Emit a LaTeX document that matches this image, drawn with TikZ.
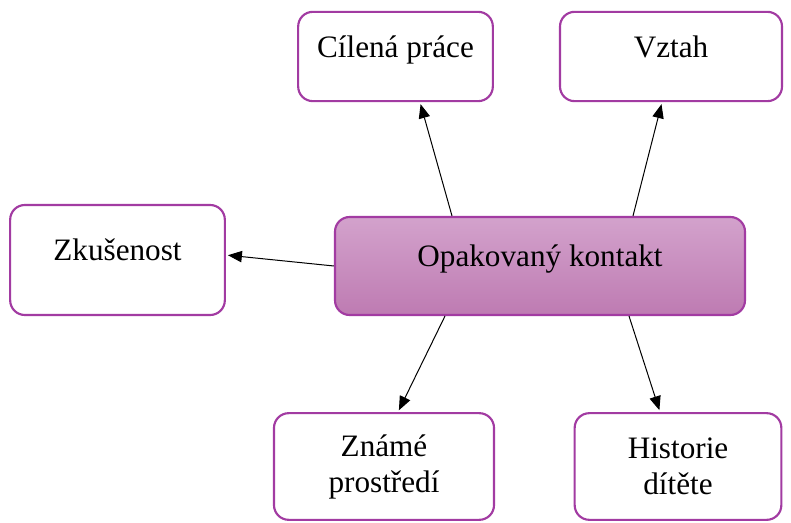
\documentclass[tikz,border=0pt]{standalone}
\usepackage{fontspec}
\setmainfont{Liberation Serif}
\usetikzlibrary{arrows.meta}

\definecolor{boxline}{HTML}{A23BA2}
\definecolor{maintop}{HTML}{D3A2CC}
\definecolor{mainbottom}{HTML}{BE7BB2}

\begin{document}
\begin{tikzpicture}
  [x=0.75pt,y=-0.75pt,>={Triangle[length=10.5pt,width=8.5pt]},
   topic/.style={rectangle,rounded corners=11pt,draw=boxline,line width=1.6pt,fill=white,
     font=\fontsize{23.4}{27}\selectfont,align=center,inner sep=0pt},
   oneline/.style={text height=0.7em,text depth=0.56em},
   centre/.style={topic,oneline,draw=boxline,top color=maintop,bottom color=mainbottom},
   link/.style={->,line width=0.75pt,shorten >=1.5pt}]
  \useasboundingbox (0,0) rectangle (791,523);
  \node[centre,minimum width=307.5pt,minimum height=73.5pt] (contact) at (540,266) {Opakovaný kontakt};
  \node[topic,oneline,minimum width=146pt,minimum height=67pt] (aim) at (395.5,56.5) {Cílená práce};
  \node[topic,oneline,minimum width=166.5pt,minimum height=67pt] (bond) at (671,56.5) {Vztah};
  \node[topic,oneline,minimum width=161pt,minimum height=82.5pt] (skill) at (117.5,260) {Zkušenost};
  \node[topic,minimum width=165pt,minimum height=80pt] (place) at (384,466.5) {Známé\\prostředí};
  \node[topic,minimum width=155pt,minimum height=80pt] (history) at (678,466.5) {Historie\\dítěte};
  \draw [link] ([xshift=-66pt]contact.north) -- ([xshift=18.4pt]aim.south);
  \draw [link] ([xshift=69.75pt]contact.north) -- ([xshift=-6.75pt]bond.south);
  \draw [link] (contact.west) -- ([yshift=3.75pt]skill.east);
  \draw [link] ([xshift=-71.25pt]contact.south) -- ([xshift=10.5pt]place.north);
  \draw [link] ([xshift=66.75pt]contact.south) -- ([xshift=-13.5pt]history.north);
\end{tikzpicture}
\end{document}
